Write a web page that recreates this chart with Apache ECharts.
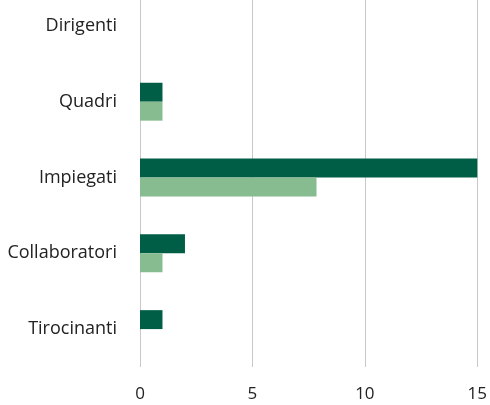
<!DOCTYPE html>
<html>
<head>
<meta charset="utf-8">
<script src="https://cdn.jsdelivr.net/npm/echarts@6/dist/echarts.min.js"></script>
<style>
  html, body { margin: 0; padding: 0; background: #fff; overflow: hidden; }
  /* il grafico parte un po' sopra il bordo, come nell'originale */
  #chart { width: 490px; height: 417px; margin-top: -12px; }
</style>
</head>
<body>
<div id="chart"></div>
<script>
// categorie (dall'alto in basso)
var categories = ['Dirigenti', 'Quadri', 'Impiegati', 'Collaboratori', 'Tirocinanti']
// serie scura e serie chiara
var darkValues = [0, 1, 15, 2, 1]
var lightValues = [0, 1, 7.85, 1, 0]
var xTicks = [0, 5, 10, 15]

var chart = echarts.init(document.getElementById('chart'))

var options = {
  animation: false,
  grid: {
    left: 140,
    right: 10,
    top: 0,
    bottom: 38
  },
  xAxis: {
    type: 'value',
    min: xTicks[0],
    max: xTicks[xTicks.length - 1],
    interval: xTicks[1] - xTicks[0],
    axisLine: { show: false },
    axisTick: { show: false },
    axisLabel: {
      color: '#222',
      fontFamily: 'Open Sans',
      fontSize: 17,
      margin: 19
    },
    splitLine: { lineStyle: { color: '#c8c8c8', width: 1 } }
  },
  yAxis: {
    type: 'category',
    data: categories,
    inverse: true,
    axisLine: { show: false },
    axisTick: { show: false },
    axisLabel: {
      color: '#222',
      fontFamily: 'Open Sans',
      fontSize: 18,
      margin: 23
    }
  },
  series: [
    {
      type: 'bar',
      data: darkValues,
      barGap: '0%',
      barCategoryGap: '50%',
      itemStyle: { color: '#005e47' }
    },
    {
      type: 'bar',
      data: lightValues,
      itemStyle: { color: '#86bc8f' }
    }
  ]
}

chart.setOption(options)
</script>
</body>
</html>
